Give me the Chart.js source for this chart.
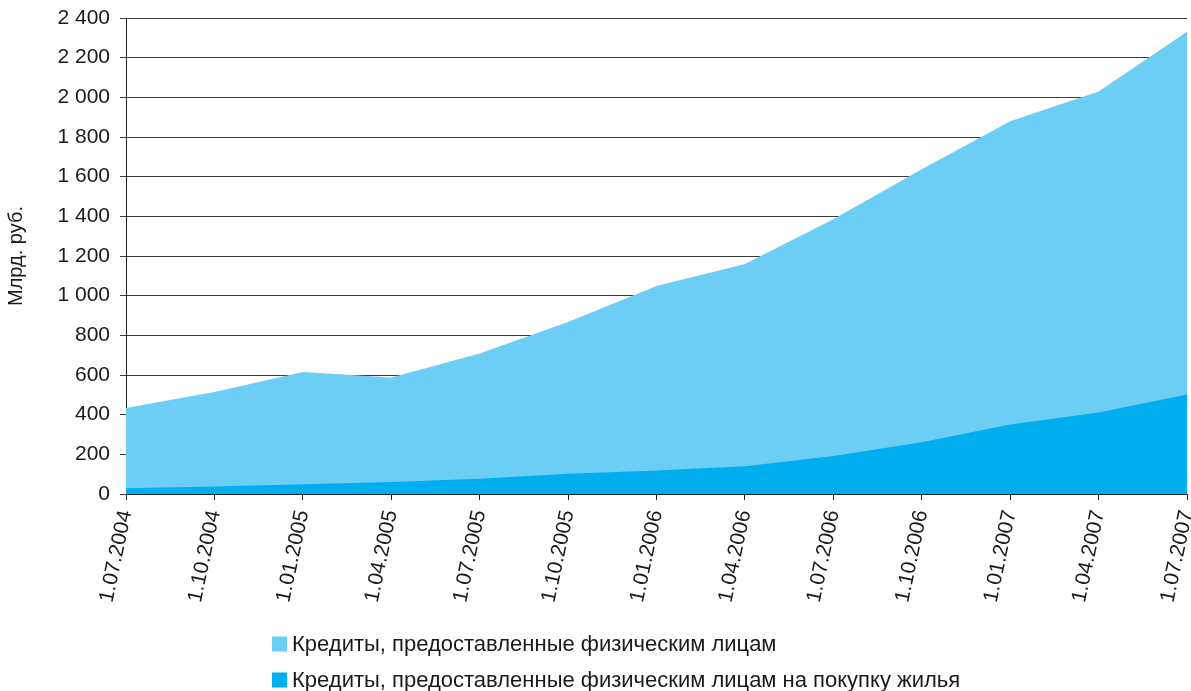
<!DOCTYPE html>
<html lang="ru">
<head>
    <meta charset="UTF-8">
    <script src="https://cdn.jsdelivr.net/npm/chart.js"></script>
    <title>Кредиты физическим лицам</title>
    <style>
        body {
            margin: 0;
            background: #fff;
        }
        #wrap {
            width: 1191px;
            height: 691px;
        }
    </style>
</head>
<body>

<div id="wrap"><canvas id="loansChart" width="1191" height="691"></canvas></div>

<script>
    // dates (quarterly)
    const dates = ['1.07.2004', '1.10.2004', '1.01.2005', '1.04.2005', '1.07.2005', '1.10.2005', '1.01.2006',
                   '1.04.2006', '1.07.2006', '1.10.2006', '1.01.2007', '1.04.2007', '1.07.2007'];
    // billion rubles
    const totalLoans   = [433, 514, 615, 587, 708, 867, 1049, 1160, 1385, 1638, 1880, 2030, 2331];
    const housingLoans = [29, 38, 49, 60, 77, 102, 119, 140, 191, 261, 351, 411, 502];

    const labelTotal   = 'Кредиты, предоставленные физическим лицам';
    const labelHousing = 'Кредиты, предоставленные физическим лицам на покупку жилья';

    const FONT = '"Liberation Sans", Arial, sans-serif';
    const TEXT = '#1a1a1a';

    // legend stacked vertically under the axis
    const legendPlugin = {
        id: 'stackedLegend',
        afterDraw(chart) {
            const c = chart.ctx;
            c.save();
            c.font = '22px ' + FONT;
            c.textBaseline = 'middle';
            chart.data.datasets.forEach((ds, i) => {
                const y = 644 + i * 36;
                c.fillStyle = ds.backgroundColor;
                c.fillRect(272, y - 7.5, 15, 15);
                c.fillStyle = TEXT;
                c.fillText(ds.label, 292, y + 1);
            });
            c.restore();
        }
    };

    const ctx = document.getElementById('loansChart').getContext('2d');
    const loansChart = new Chart(ctx, {
        type: 'line',
        data: {
            labels: dates,
            datasets: [{
                label: labelTotal,
                data: totalLoans,
                backgroundColor: '#6dcef5',
                borderWidth: 0,
                pointRadius: 0,
                fill: 'origin',
                order: 2
            }, {
                label: labelHousing,
                data: housingLoans,
                backgroundColor: '#00aeef',
                borderWidth: 0,
                pointRadius: 0,
                fill: 'origin',
                order: 1
            }]
        },
        options: {
            responsive: false,
            animation: false,
            layout: { padding: { top: 18, right: 4, left: 4, bottom: 0 } },
            plugins: {
                legend: { display: false },
                tooltip: { enabled: false }
            },
            scales: {
                x: {
                    offset: false,
                    grid: {
                        drawOnChartArea: false,
                        drawTicks: true,
                        tickLength: 6,
                        color: '#222'
                    },
                    border: { color: '#222', width: 1 },
                    ticks: {
                        autoSkip: false,
                        minRotation: 78,
                        maxRotation: 78,
                        padding: 8,
                        color: TEXT,
                        font: { family: FONT, size: 21 }
                    },
                    afterFit(scale) {
                        scale.height = 197;
                        scale.paddingLeft = 0;
                        scale.paddingRight = 0;
                    }
                },
                y: {
                    min: 0,
                    max: 2400,
                    grid: {
                        color: '#3a3a3a',
                        lineWidth: 1,
                        tickLength: 6
                    },
                    border: { color: '#222', width: 1 },
                    ticks: {
                        stepSize: 200,
                        padding: 10,
                        color: TEXT,
                        font: { family: FONT, size: 21 },
                        callback: v => v.toString().replace(/\B(?=(\d{3})+(?!\d))/g, ' ')
                    },
                    title: {
                        display: true,
                        text: 'Млрд. руб.',
                        color: TEXT,
                        font: { family: FONT, size: 20 },
                        padding: { top: 0, bottom: 0 }
                    },
                    afterFit(scale) {
                        scale.width = 122;
                        scale.paddingTop = 0;
                        scale.paddingBottom = 0;
                    }
                }
            }
        },
        plugins: [legendPlugin]
    });
</script>

</body>
</html>
